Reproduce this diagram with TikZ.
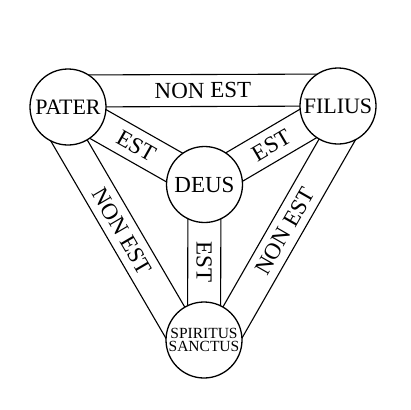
\documentclass[tikz,border=0pt]{standalone}
\usepackage{fontspec}
\setmainfont{Liberation Serif}
\usetikzlibrary{calc,backgrounds}
\begin{document}
\begin{tikzpicture}[x=1pt,y=-1pt,
  person/.style={circle, draw, line width=1.3pt, fill=white, minimum size=76pt, inner sep=0pt, font=\fontsize{22}{24}\selectfont},
  band/.style={line width=1.1pt},
  lbl/.style={font=\fontsize{23}{25}\selectfont, inner sep=0pt}]
\useasboundingbox (0,0) rectangle (410,410);
\node[person] (P) at (68,107) {PATER};
\node[person] (F) at (338,106) {FILIUS};
\node[person, font=\fontsize{23}{25}\selectfont] (D) at (204.5,184.5) {DEUS};
\node[person, font=\fontsize{15.5}{12.7}\selectfont, align=center] (S) at (204,340) {SPIRITUS\\SANCTUS};
\begin{scope}[on background layer]
  % top band
  \draw[band] (P.center) -- (F.center);
  \draw[band] ($(P.center)!32pt!90:(F.center)$) -- ($(F.center)!32pt!-90:(P.center)$);
  \path ($(P.center)!16pt!90:(F.center)$) -- node[lbl,sloped]{NON EST} ($(F.center)!16pt!-90:(P.center)$);
  % left band
  \draw[band] (P.center) -- (S.center);
  \draw[band] ($(P.center)!32pt!-90:(S.center)$) -- ($(S.center)!32pt!90:(P.center)$);
  \path ($(P.center)!16pt!-90:(S.center)$) -- node[lbl,sloped]{NON EST} ($(S.center)!16pt!90:(P.center)$);
  % right band
  \draw[band] (F.center) -- (S.center);
  \draw[band] ($(F.center)!32pt!90:(S.center)$) -- ($(S.center)!32pt!-90:(F.center)$);
  \path ($(S.center)!16pt!-90:(F.center)$) -- node[lbl,sloped]{NON EST} ($(F.center)!16pt!90:(S.center)$);
  % inner bands
  \draw[band] ($(P.center)!16.5pt!90:(D.center)$) -- ($(D.center)!16.5pt!-90:(P.center)$);
  \draw[band] ($(P.center)!16.5pt!-90:(D.center)$) -- ($(D.center)!16.5pt!90:(P.center)$);
  \path (P.center) -- node[lbl,sloped]{EST} (D.center);
  \draw[band] ($(D.center)!16.5pt!90:(F.center)$) -- ($(F.center)!16.5pt!-90:(D.center)$);
  \draw[band] ($(D.center)!16.5pt!-90:(F.center)$) -- ($(F.center)!16.5pt!90:(D.center)$);
  \path (D.center) -- node[lbl,sloped]{EST} (F.center);
  \draw[band] ($(D.center)!16.5pt!90:(S.center)$) -- ($(S.center)!16.5pt!-90:(D.center)$);
  \draw[band] ($(D.center)!16.5pt!-90:(S.center)$) -- ($(S.center)!16.5pt!90:(D.center)$);
  \path (D.center) -- node[lbl,rotate=-90]{EST} (S.center);
\end{scope}
\end{tikzpicture}
\end{document}
